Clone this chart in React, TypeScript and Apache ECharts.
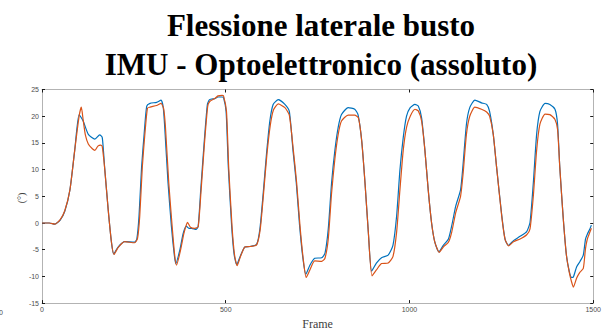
import React, { useEffect, useRef } from "react";
import * as echarts from "echarts";

const titleLines = ["Flessione laterale busto", "IMU - Optoelettronico (assoluto)"];
const xAxisName = "Frame";
const yAxisName = "(°)";
const seriesNames = ["IMU", "Optoelettronico"];

// [frame, degrees]
const imuData: number[][] = [
  [0, 0], [20, 0], [35, -0.2], [49, 0.5], [62, 2.2], [76, 6.2], [89, 13.6], [101, 20.3], [112, 19.1], [126, 16.6],
  [144, 15.7], [157, 16.5], [164, 16], [171, 9.9], [180, 2.6], [189, -3.6], [195, -5.8], [207, -4.5], [225, -3.5], [252, -3.6],
  [258, -3.0], [264, 1.3], [271, 10.5], [278, 16.7], [285, 21.9], [294, 22.4], [312, 22.6], [324, 23], [330, 21.6], [334, 17.9],
  [343, 7.5], [352, -0.5], [360, -6], [364, -7.6], [375, -5.1], [384, -2.0], [393, -0.6], [400, -1.0], [407, -1.0], [419, -1.2],
  [425, -0.6], [432, 6.2], [441, 14.8], [450, 22.2], [456, 23.1], [470, 23.3], [479, 23.6], [490, 23.6], [494, 23.5], [501, 20.9],
  [507, 10.5], [516, -0.5], [523, -6], [530, -7.8], [539, -6.3], [552, -4.5], [566, -4.4], [584, -4.0], [593, -1.1], [602, 5.6],
  [611, 13], [620, 19.1], [629, 22.2], [643, 23.1], [661, 22.2], [673, 20.9], [683, 13.6], [692, 7.5], [701, -0.5], [710, -6.6],
  [718, -9.6], [729, -7.9], [742, -6.6], [761, -6.5], [770, -5.7], [779, -1.1], [788, 7.5], [797, 13.6], [806, 17.9], [815, 20.3],
  [833, 21.6], [851, 21.3], [860, 20.3], [870, 15.4], [879, 7.5], [888, -1.7], [897, -9.0], [910, -7.5], [924, -6.5], [942, -6.0],
  [955, -4.2], [965, 1.3], [974, 9.9], [983, 16], [992, 20], [1002, 21.6], [1015, 22.2], [1024, 21.9], [1033, 19.7], [1042, 13.6],
  [1051, 6.2], [1060, 0.1], [1069, -3.6], [1080, -5.4], [1092, -4.2], [1106, -3.0], [1115, -0.5], [1126, 3.2], [1139, 6.2], [1146, 11.1],
  [1155, 18.5], [1164, 21.6], [1178, 23], [1196, 22.5], [1210, 22.2], [1218, 20.9], [1228, 16.6], [1237, 10.5], [1251, 1.5], [1260, -3],
  [1269, -4.2], [1283, -3.3], [1301, -2.5], [1319, -1.6], [1328, 0.1], [1337, 7.5], [1346, 16.6], [1355, 20.9], [1369, 22.4], [1382, 22.2],
  [1396, 21.3], [1403, 18.5], [1409, 10.5], [1418, 1.3], [1427, -6], [1435, -9.1], [1441, -10.2], [1446, -10.1], [1455, -8.2], [1464, -7.2],
  [1473, -6.0], [1479, -3], [1484, -2.1], [1491, -1.1], [1495, -0.4],
];

const optoData: number[][] = [
  [0, 0], [20, 0], [35, -0.2], [49, 0.6], [62, 2.3], [76, 6.2], [89, 13.6], [101, 20], [107, 21.7], [112, 19.3],
  [118, 16.5], [126, 14.8], [137, 13.9], [144, 13.6], [152, 14.4], [160, 14.6], [164, 14.3], [171, 9.9], [180, 2.6], [189, -3.6],
  [196, -5.9], [207, -4.6], [225, -3.5], [252, -3.7], [260, -2.9], [266, 1.3], [273, 10.5], [280, 16.7], [287, 21.5], [294, 21.7],
  [312, 22], [324, 22.4], [331, 21.4], [336, 17.9], [345, 7.5], [354, -0.5], [361, -6], [366, -7.9], [377, -5.1], [386, -2.0],
  [393, -0.3], [396, 0.1], [404, -0.8], [416, -1.0], [425, -0.7], [433, 6.2], [442, 14.8], [451, 21.9], [457, 22.8], [470, 23.3],
  [479, 23.8], [490, 23.9], [494, 23.8], [502, 20.9], [508, 10.5], [517, -0.5], [524, -6], [531, -8.0], [540, -6.3], [552, -4.5],
  [566, -4.4], [584, -4.1], [594, -1.1], [603, 5.6], [612, 12.8], [621, 18.2], [630, 21.2], [643, 22.3], [661, 21.6], [673, 20.2],
  [684, 13.6], [693, 7.5], [702, -0.5], [711, -6.8], [719, -10.2], [729, -8.8], [742, -7.1], [761, -7.2], [770, -6.6], [779, -3.0],
  [788, 5.6], [797, 12], [806, 16.6], [815, 19.1], [833, 20.2], [851, 20.2], [861, 19.7], [870, 15.4], [879, 7.5], [888, -1.7],
  [898, -9.9], [910, -8.8], [924, -7.6], [942, -7.5], [955, -6.3], [965, -1.7], [974, 6.2], [983, 13.6], [992, 17.9], [1002, 20.0],
  [1015, 21.3], [1024, 21], [1033, 19.1], [1042, 13.6], [1051, 6.2], [1060, 0.1], [1069, -3.6], [1081, -5.5], [1092, -4.5], [1106, -3.6],
  [1115, -1.7], [1126, 2.0], [1139, 5.0], [1146, 9.3], [1155, 16.6], [1164, 20.0], [1178, 21.7], [1196, 21.3], [1210, 20.8], [1218, 20],
  [1228, 16.6], [1237, 10.5], [1251, 1.3], [1260, -3], [1270, -4.3], [1283, -3.5], [1301, -3.0], [1319, -2.2], [1328, -1.1], [1337, 5],
  [1346, 13.6], [1355, 18.5], [1369, 20.4], [1382, 20.3], [1396, 19.4], [1403, 17.5], [1409, 10.5], [1418, 1.3], [1427, -6], [1435, -9.3],
  [1441, -11], [1446, -12], [1455, -10.3], [1464, -9.2], [1473, -8.5], [1479, -4.8], [1484, -3], [1491, -1.7], [1495, -1.0],
];

const xMin = 0, xMax = 1500, xInterval = 500;
const yMin = -15, yMax = 25, yInterval = 5;

export default function App() {
  const ref = useRef<HTMLDivElement>(null);
  useEffect(() => {
    if (!ref.current) return;
    const chart = echarts.init(ref.current, null, { renderer: "svg" });
    const lineCol = "#b3b3b3";
    const tickCol = "#1a1a1a";
    const labelStyle = {
      fontSize: 7,
      color: "#4d4d4d",
      fontFamily: "Liberation Sans, Arial, sans-serif",
      formatter: (v: number) => String(v),
    };
    const baseAxis = {
      type: "value" as const,
      axisLine: { show: true, onZero: false, lineStyle: { color: lineCol, width: 1 } },
      axisTick: { show: true, inside: true, length: 3, lineStyle: { color: tickCol, width: 1 } },
      splitLine: { show: false },
    };
    chart.setOption({
      animation: false,
      backgroundColor: "#ffffff",
      title: {
        text: titleLines.join("\n"),
        left: 316,
        top: 1,
        textAlign: "center",
        textStyle: {
          fontFamily: "Liberation Serif, serif",
          fontWeight: "bold",
          fontSize: 31,
          lineHeight: 39,
          color: "#000",
        },
      },
      grid: { left: 42, right: 9, top: 89.5, bottom: 27.7, containLabel: false },
      xAxis: [
        {
          ...baseAxis,
          position: "bottom",
          min: xMin, max: xMax, interval: xInterval,
          axisLabel: { ...labelStyle, margin: 3 },
          name: xAxisName,
          nameLocation: "middle",
          nameGap: 12,
          nameTextStyle: { fontFamily: "Liberation Serif, serif", fontSize: 12, color: "#404040" },
        },
        {
          ...baseAxis,
          position: "top",
          min: xMin, max: xMax, interval: xInterval,
          axisLabel: { show: false },
        },
      ],
      yAxis: [
        {
          ...baseAxis,
          position: "left",
          min: yMin, max: yMax, interval: yInterval,
          axisLabel: { ...labelStyle, margin: 3 },
        },
        {
          ...baseAxis,
          position: "right",
          min: yMin, max: yMax, interval: yInterval,
          axisLabel: { show: false },
        },
      ],
      graphic: [
        {
          type: "text",
          left: -1,
          top: 309,
          style: { text: "0", fontSize: 7, fill: "#4d4d4d", fontFamily: "Liberation Sans, Arial, sans-serif" },
        },
        {
          type: "text",
          x: 21,
          y: 198,
          rotation: Math.PI / 2,
          style: {
            text: yAxisName,
            fontSize: 10,
            fill: "#404040",
            fontFamily: "Liberation Serif, serif",
            align: "center",
            verticalAlign: "middle",
          },
        },
      ],
      series: [
        {
          name: seriesNames[0],
          type: "line",
          data: imuData,
          showSymbol: false,
          smooth: 0.2,
          lineStyle: { color: "#0072BD", width: 1.2 },
          itemStyle: { color: "#0072BD" },
        },
        {
          name: seriesNames[1],
          type: "line",
          data: optoData,
          showSymbol: false,
          smooth: 0.2,
          lineStyle: { color: "#D95319", width: 1.2 },
          itemStyle: { color: "#D95319" },
        },
      ],
    });
    return () => chart.dispose();
  }, []);
  return (
    <div
      ref={ref}
      style={{ position: "fixed", left: 0, top: 0, width: 604, height: 335, background: "#fff" }}
    />
  );
}
